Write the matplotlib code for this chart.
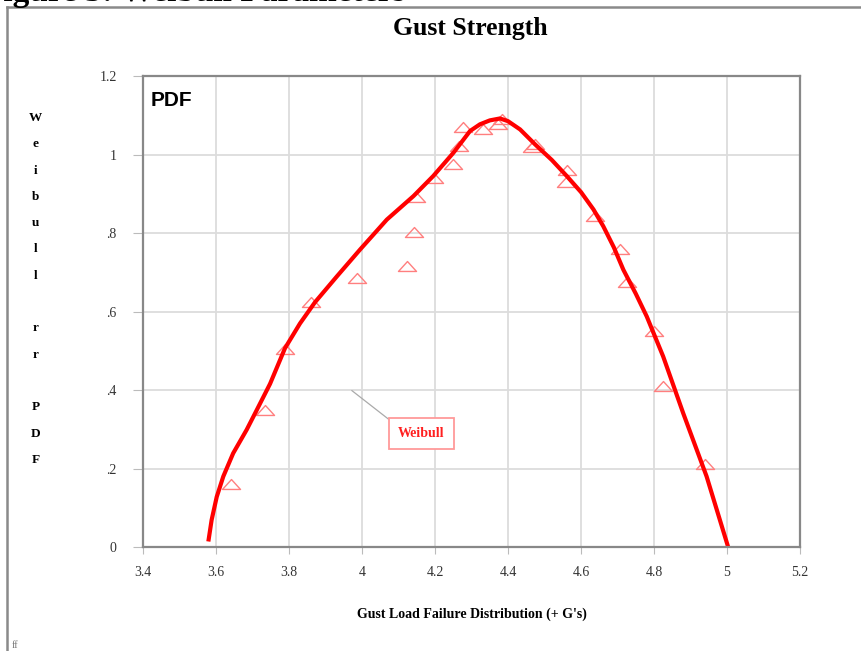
#Recreates the Gust Strength Weibull PDF chart
import matplotlib
matplotlib.use("Agg")
import matplotlib.pyplot as plt
from matplotlib.lines import Line2D
from matplotlib.path import Path

#data
title = "Gust Strength"
x_label = "Gust Load Failure Distribution (+ G's)"
y_label = "Weibull rr PDF"
fig_caption = "Figure 3: Weibull Parameters"

x_ticks = [3.4, 3.6, 3.8, 4.0, 4.2, 4.4, 4.6, 4.8, 5.0, 5.2]
x_tick_labels = ["3.4", "3.6", "3.8", "4", "4.2", "4.4", "4.6", "4.8", "5", "5.2"]
y_ticks = [0, 0.2, 0.4, 0.6, 0.8, 1.0, 1.2]
y_tick_labels = ["0", ".2", ".4", ".6", ".8", "1", "1.2"]

#observed points (triangles)
point_x = [3.641, 3.734, 3.789, 3.860, 3.986, 4.122, 4.143, 4.148, 4.197, 4.248,
           4.267, 4.278, 4.332, 4.373, 4.383, 4.465, 4.474, 4.562, 4.558, 4.638,
           4.707, 4.725, 4.800, 4.825, 4.940]
point_y = [0.161, 0.350, 0.506, 0.626, 0.687, 0.716, 0.803, 0.893, 0.942, 0.976,
           1.022, 1.072, 1.065, 1.080, 1.092, 1.021, 1.027, 0.961, 0.930, 0.845,
           0.760, 0.675, 0.550, 0.411, 0.211]

#weibull pdf curve
curve_x = [3.579, 3.588, 3.602, 3.620, 3.647, 3.684, 3.712, 3.748, 3.789, 3.830,
           3.871, 3.931, 3.995, 4.068, 4.141, 4.195, 4.250, 4.296, 4.323, 4.350,
           4.378, 4.400, 4.433, 4.474, 4.520, 4.561, 4.600, 4.634, 4.661, 4.690,
           4.716, 4.750, 4.780, 4.825, 4.880, 4.944, 5.003]
curve_y = [0.014, 0.069, 0.128, 0.180, 0.239, 0.299, 0.350, 0.416, 0.507, 0.570,
           0.624, 0.690, 0.759, 0.835, 0.895, 0.946, 1.005, 1.061, 1.078, 1.088,
           1.093, 1.086, 1.065, 1.027, 0.987, 0.946, 0.905, 0.861, 0.818, 0.764,
           0.707, 0.646, 0.588, 0.486, 0.341, 0.180, 0.0]


def main():
    serif = "Liberation Serif"
    fig = plt.figure(figsize=(8.61, 6.51), dpi=100)
    ax = fig.add_axes([0.1661, 0.1598, 0.7631, 0.7227])

    #grid and frame
    ax.set_xlim(3.4, 5.2)
    ax.set_ylim(0, 1.2)
    ax.set_xticks(x_ticks)
    ax.set_xticklabels(x_tick_labels, fontfamily=serif, fontsize=10, color="#333333")
    ax.set_yticks(y_ticks)
    ax.set_yticklabels(y_tick_labels, fontfamily=serif, fontsize=10, color="#333333")
    ax.grid(True, color="#dcdcdc", linewidth=1.3)
    ax.set_axisbelow(True)
    for spine in ax.spines.values():
        spine.set_color("#888888")
        spine.set_linewidth(1.6)
    ax.tick_params(axis="y", length=7, color="#bbbbbb", pad=12)
    ax.tick_params(axis="x", length=5, color="#bbbbbb", pad=9)

    #flattened open triangle marker
    tri = Path([(-1, -0.55), (1, -0.55), (0, 0.55), (-1, -0.55)],
               [Path.MOVETO, Path.LINETO, Path.LINETO, Path.CLOSEPOLY])
    ax.plot(point_x, point_y, linestyle="none", marker=tri, markersize=13,
            markerfacecolor="none", markeredgecolor="#ff7f7f", markeredgewidth=1.0)

    ax.plot(curve_x, curve_y, color="#ff0000", linewidth=3.0,
            solid_capstyle="butt", solid_joinstyle="round")

    #labels
    ax.text(0.011, 0.95, "PDF", transform=ax.transAxes, fontfamily="Liberation Sans",
            fontweight="bold", fontsize=15, va="center", ha="left")
    ax.annotate("Weibull", xy=(3.972, 0.399), xytext=(4.163, 0.29),
                fontfamily=serif, fontweight="bold", fontsize=10, color="#ff2020",
                ha="center", va="center",
                bbox=dict(boxstyle="square,pad=0.65", facecolor="white",
                          edgecolor="#ff9a9a", linewidth=1.3),
                arrowprops=dict(arrowstyle="-", color="#aaaaaa", linewidth=0.9,
                                relpos=(0, 1), shrinkA=0, shrinkB=0))

    fig.text(0.5465, 0.956, title, fontfamily=serif, fontweight="bold",
             fontsize=18.5, ha="center", va="center")
    fig.text(0.548, 0.057, x_label, fontfamily=serif, fontweight="bold",
             fontsize=10, ha="center", va="center")

    #vertical y label, one letter per line
    for i, letter in enumerate(y_label):
        fig.text(0.041, 1 - (118 + i * 26.3) / 651, letter, fontfamily=serif,
                 fontweight="bold", fontsize=9.5, ha="center", va="center")

    #page frame and cut off caption
    fig.add_artist(Line2D([7 / 861, 1], [1 - 7 / 651, 1 - 7 / 651],
                          color="#8a8a8a", linewidth=1.8))
    fig.add_artist(Line2D([7 / 861, 7 / 861], [0, 1 - 7 / 651],
                          color="#8a8a8a", linewidth=1.8))
    fig.text(-0.02, 1 - 1 / 651, fig_caption, fontfamily=serif, fontweight="bold",
             fontsize=24, ha="left", va="baseline")
    fig.text(0.014, 0.008, "ff", fontfamily=serif, fontsize=7, color="#777777",
             ha="left", va="center")

    fig.savefig("out.png", dpi=100)


main()
